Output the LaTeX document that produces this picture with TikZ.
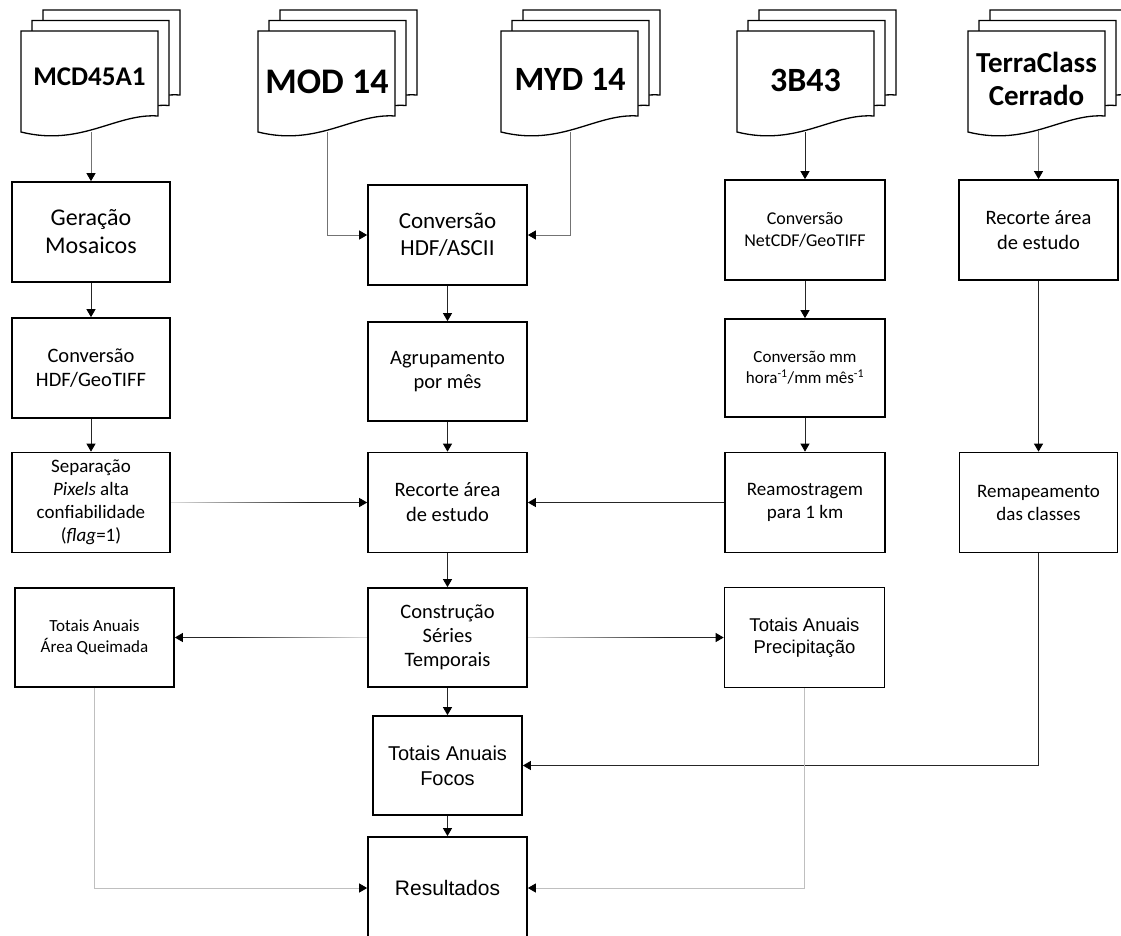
\documentclass[tikz,border=0pt]{standalone}
\usepackage{fontspec}
\setmainfont{Carlito}
\newfontfamily\arialfont{Liberation Sans}
\usetikzlibrary{arrows.meta,fadings}

\tikzfading[name=tailfade east, left color=transparent!85, middle color=transparent!0, right color=transparent!0]
\tikzfading[name=tailfade west, left color=transparent!0, middle color=transparent!0, right color=transparent!85]

\begin{document}
\begin{tikzpicture}[x=1pt, y=-1pt,
  procbox/.style={draw, line width=1.7pt, align=center, inner sep=2pt, minimum width=158pt, minimum height=100pt},
  doctitle/.style={font=\bfseries, align=center},
  link/.style={-{Triangle[length=8pt,width=9pt,color=black]}, line width=0.9pt, draw=black!85},
  greylink/.style={link, draw=black!55},
  palelink/.style={link, draw=black!25},
  fadelink/.style 2 args={link, path fading=#1, fit fading=false, fading transform={shift={#2}, xscale=2.8}}]
\useasboundingbox (0,0) rectangle (1121,935);

% data sources (stacked documents)
\foreach \a in {21,258,501,737,968}{
  \foreach \dx/\dy in {22/-21,11/-10.5,0/0}{
    \filldraw[fill=white, line width=1.3pt] ({\a+\dx},{31+\dy}) -- ({\a+\dx+137},{31+\dy}) -- ({\a+\dx+137},{116+\dy})
      .. controls ({\a+\dx+95},{113+\dy}) and ({\a+\dx+60},{147+\dy}) .. ({\a+\dx},{132+\dy}) -- cycle;
  }
}
\node[doctitle, font=\bfseries\fontsize{27}{32}\selectfont] (mcd) at (89.5,77) {MCD45A1};
\node[doctitle, font=\bfseries\fontsize{36}{42}\selectfont] (mod) at (327,82) {MOD 14};
\node[doctitle, font=\bfseries\fontsize{34}{40}\selectfont] (myd) at (570,79) {MYD 14};
\node[doctitle, font=\bfseries\fontsize{34}{40}\selectfont] (trmm) at (805.5,80) {3B43};
\node[doctitle, font=\bfseries\fontsize{29}{33}\selectfont] (tcc) at (1036.5,79) {TerraClass\\Cerrado};
\coordinate (mcdbot) at (91,132);
\coordinate (modbot) at (327,132);
\coordinate (mydbot) at (570,132);
\coordinate (trmmbot) at (805,132);
\coordinate (tccbot) at (1038.5,131);

% left column
\node[procbox, font=\fontsize{24}{28}\selectfont] (gera) at (91,232) {Geração\\Mosaicos};
\node[procbox, font=\fontsize{20.5}{24}\selectfont] (convGT) at (91,368) {Conversão\\HDF/GeoTIFF};
\node[procbox, font=\fontsize{19}{23}\selectfont] (separ) at (91,502.5) {Separação\\\textit{Pixels} alta\\confiabilidade\\(\textit{flag}=1)};
\node[procbox, minimum width=159pt, minimum height=99pt, font=\fontsize{17}{21.5}\selectfont] (queim) at (94.5,637.5) {Totais Anuais\\Área Queimada};

% centre column
\node[procbox, minimum width=159pt, font=\fontsize{23}{27}\selectfont] (convA) at (447.5,235) {Conversão\\HDF/ASCII};
\node[procbox, minimum width=159pt, minimum height=99pt, font=\fontsize{20.5}{24.5}\selectfont] (agrup) at (447.5,371.5) {Agrupamento\\por mês};
\node[procbox, minimum width=159pt, font=\fontsize{20.5}{25}\selectfont] (recC) at (447.5,502.5) {Recorte área\\de estudo};
\node[procbox, minimum width=159pt, minimum height=99pt, font=\fontsize{20.5}{24}\selectfont] (constr) at (447.5,637.5) {Construção\\Séries\\Temporais};
\node[procbox, minimum width=149pt, minimum height=99pt, font=\arialfont\fontsize{20}{25}\selectfont] (focos) at (447.5,765.5) {Totais Anuais\\Focos};
\node[procbox, minimum width=159pt, minimum height=102pt, font=\arialfont\fontsize{21}{25}\selectfont] (result) at (447.5,888) {Resultados};

% precipitation column
\node[procbox, minimum width=160pt, font=\fontsize{18}{22}\selectfont] (convN) at (805,230) {Conversão\\NetCDF/GeoTIFF};
\node[procbox, minimum width=160pt, minimum height=98pt, font=\fontsize{17}{21}\selectfont] (convmm) at (805,368) {Conversão mm\\hora\textsuperscript{-1}/mm mês\textsuperscript{-1}};
\node[procbox, minimum width=160pt, font=\fontsize{19}{23}\selectfont] (ream) at (805,502.5) {Reamostragem\\para 1 km};
\node[procbox, minimum width=160pt, font=\arialfont\fontsize{18.5}{22.5}\selectfont] (precip) at (804.5,637.5) {Totais Anuais\\Precipitação};

% land cover column
\node[procbox, minimum width=159pt, font=\fontsize{20.5}{25}\selectfont] (recR) at (1038.5,230) {Recorte área\\de estudo};
\node[procbox, font=\fontsize{19}{23}\selectfont] (remap) at (1038.5,502.5) {Remapeamento\\das classes};

% connectors
\draw[greylink] (mcdbot) -- (gera);
\draw[greylink] (modbot) |- (convA);
\draw[greylink] (mydbot) |- (convA);
\draw[link] (trmmbot) -- (convN);
\draw[greylink] (tccbot) -- (recR);

\draw[link] (gera) -- (convGT);
\draw[link] (convGT) -- (separ);
\draw[fadelink={tailfade east}{(240,502.5)}] (separ) -- (recC);

\draw[link] (convA) -- (agrup);
\draw[link] (agrup) -- (recC);
\draw[link] (recC) -- (constr);
\draw[fadelink={tailfade west}{(298,637.5)}] (constr) -- (queim);
\draw[fadelink={tailfade east}{(597,637.5)}] (constr) -- (precip);
\draw[link] (constr) -- (focos);
\draw[link] (focos) -- (result);

\draw[link] (convN) -- (convmm);
\draw[link] (convmm) -- (ream);
\draw[link] (ream) -- (recC);

\draw[link] (recR) -- (remap);
\draw[link] (remap) |- (focos);

\draw[palelink] (queim) |- (result);
\draw[palelink] (precip) |- (result);
\end{tikzpicture}
\end{document}
